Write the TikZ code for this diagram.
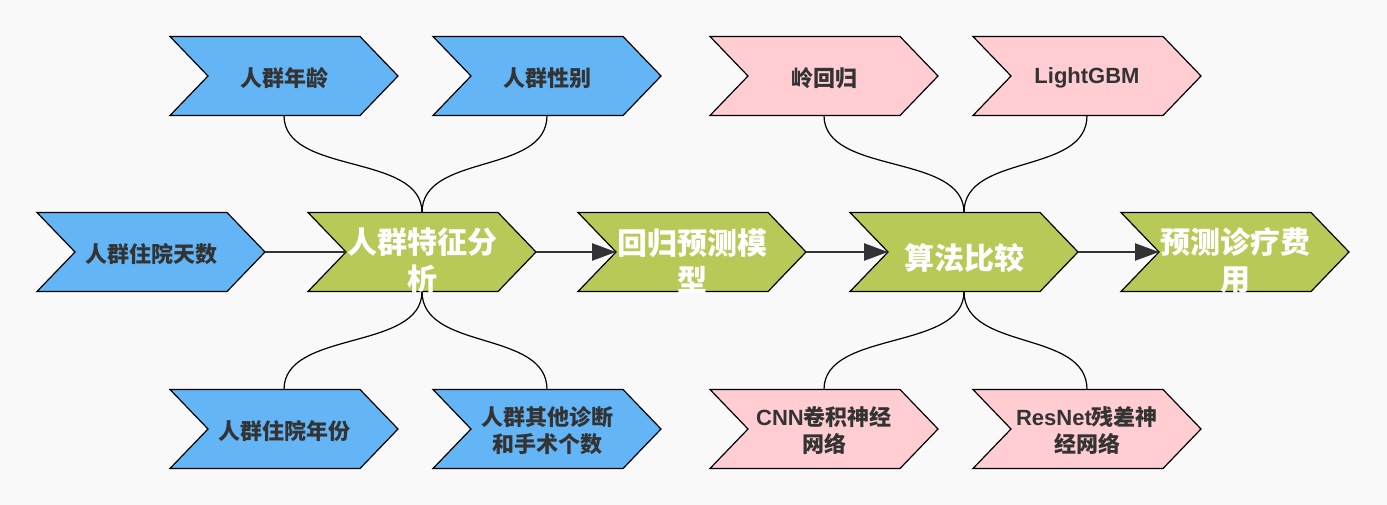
\documentclass[tikz,border=0pt]{standalone}
\usepackage{fontspec}
\setmainfont{Liberation Sans}
\newfontfamily\cjk{Noto Sans CJK SC}
\usetikzlibrary{arrows.meta,backgrounds}
\definecolor{bgc}{HTML}{F9F9F9}
\definecolor{bluef}{HTML}{64B5F6}
\definecolor{pinkf}{HTML}{FFCDD2}
\definecolor{greenf}{HTML}{B9C957}
\definecolor{txt}{HTML}{333333}
\definecolor{arr}{HTML}{333333}
\newcommand\chevpath[2]{\filldraw[#2] (#1.north west) -- ([xshift=-38pt]#1.north east) -- (#1.east) -- ([xshift=-38pt]#1.south east) -- (#1.south west) -- ([xshift=38pt]#1.west) -- cycle;}
\begin{document}
\begin{tikzpicture}[x=1pt,y=-1pt,
  box/.style={draw=none, minimum width=228pt, minimum height=79pt, inner sep=0pt, outer sep=0pt},
  bt/.style={font=\cjk\bfseries\fontsize{22}{27}\selectfont, text=txt, align=center, inner sep=0pt},
  gt/.style={font=\cjk\bfseries\fontsize{30}{37}\selectfont, text=white, align=center, inner sep=0pt},
  chev/.style={line width=1.2pt, draw=black},
  curve/.style={line width=1.2pt, draw=black},
  flow/.style={line width=2.5pt, draw=arr, -{Triangle[length=24pt,width=17pt]}},
  plain/.style={line width=1.2pt, draw=txt}]
\useasboundingbox (0,0) rectangle (1387,505);
% shape nodes
\node[box] (t1) at (284,76) {};
\node[box] (t2) at (547,76) {};
\node[box] (t3) at (824,76) {};
\node[box] (t4) at (1087,76) {};
\node[box] (m0) at (151,252) {};
\node[box] (g1) at (422,252) {};
\node[box] (g2) at (692,252) {};
\node[box] (g3) at (964,252) {};
\node[box] (g4) at (1235,252) {};
\node[box] (b1) at (284,429) {};
\node[box] (b2) at (547,429) {};
\node[box] (b3) at (824,429) {};
\node[box] (b4) at (1087,429) {};
\begin{scope}[on background layer]
  \fill[bgc] (0,0) rectangle (1387,505);
  \chevpath{t1}{chev,fill=bluef}
  \chevpath{t2}{chev,fill=bluef}
  \chevpath{t3}{chev,fill=pinkf}
  \chevpath{t4}{chev,fill=pinkf}
  \chevpath{m0}{chev,fill=bluef}
  \chevpath{g1}{chev,fill=greenf}
  \chevpath{g2}{chev,fill=greenf}
  \chevpath{g3}{chev,fill=greenf}
  \chevpath{g4}{chev,fill=greenf}
  \chevpath{b1}{chev,fill=bluef}
  \chevpath{b2}{chev,fill=bluef}
  \chevpath{b3}{chev,fill=pinkf}
  \chevpath{b4}{chev,fill=pinkf}
\end{scope}
% texts
\node[bt] (t1t) at ([yshift=-2pt]t1.center) {人群年龄};
\node[bt] (t2t) at ([yshift=-2pt]t2.center) {人群性别};
\node[bt] (t3t) at ([yshift=-2pt]t3.center) {岭回归};
\node[bt] (t4t) at ([yshift=-2pt]t4.center) {{\rmfamily LightGBM}};
\node[bt] (m0t) at ([yshift=-2pt]m0.center) {人群住院天数};
\node[gt] (g1t) at ([yshift=-9pt]g1.center) {人群特征分\\析};
\node[gt] (g2t) at ([yshift=-9pt]g2.center) {回归预测模\\型};
\node[gt] (g3t) at ([yshift=-6pt]g3.center) {算法比较};
\node[gt] (g4t) at ([yshift=-9pt]g4.center) {预测诊疗费\\用};
\node[bt] (b1t) at ([yshift=-2pt]b1.center) {人群住院年份};
\node[bt] (b2t) at ([yshift=-2pt]b2.center) {人群其他诊断\\和手术个数};
\node[bt] (b3t) at ([yshift=-2pt]b3.center) {{\rmfamily CNN}卷积神经\\网络};
\node[bt] (b4t) at ([yshift=-2pt]b4.center) {{\rmfamily ResNet}残差神\\经网络};
% connectors
\draw[plain] (m0.east) -- ([xshift=38pt]g1.west);
\draw[flow] (g1.east) -- ([xshift=38pt]g2.west);
\draw[flow] (g2.east) -- ([xshift=38pt]g3.west);
\draw[flow] (g3.east) -- ([xshift=38pt]g4.west);
\draw[curve] (t1.south) .. controls +(0,60) and +(0,-60) .. (g1.north);
\draw[curve] (t2.south) .. controls +(0,60) and +(0,-60) .. (g1.north);
\draw[curve] (g1.south) .. controls +(0,60) and +(0,-60) .. (b1.north);
\draw[curve] (g1.south) .. controls +(0,60) and +(0,-60) .. (b2.north);
\draw[curve] (t3.south) .. controls +(0,60) and +(0,-60) .. (g3.north);
\draw[curve] (t4.south) .. controls +(0,60) and +(0,-60) .. (g3.north);
\draw[curve] (g3.south) .. controls +(0,60) and +(0,-60) .. (b3.north);
\draw[curve] (g3.south) .. controls +(0,60) and +(0,-60) .. (b4.north);
\end{tikzpicture}
\end{document}
